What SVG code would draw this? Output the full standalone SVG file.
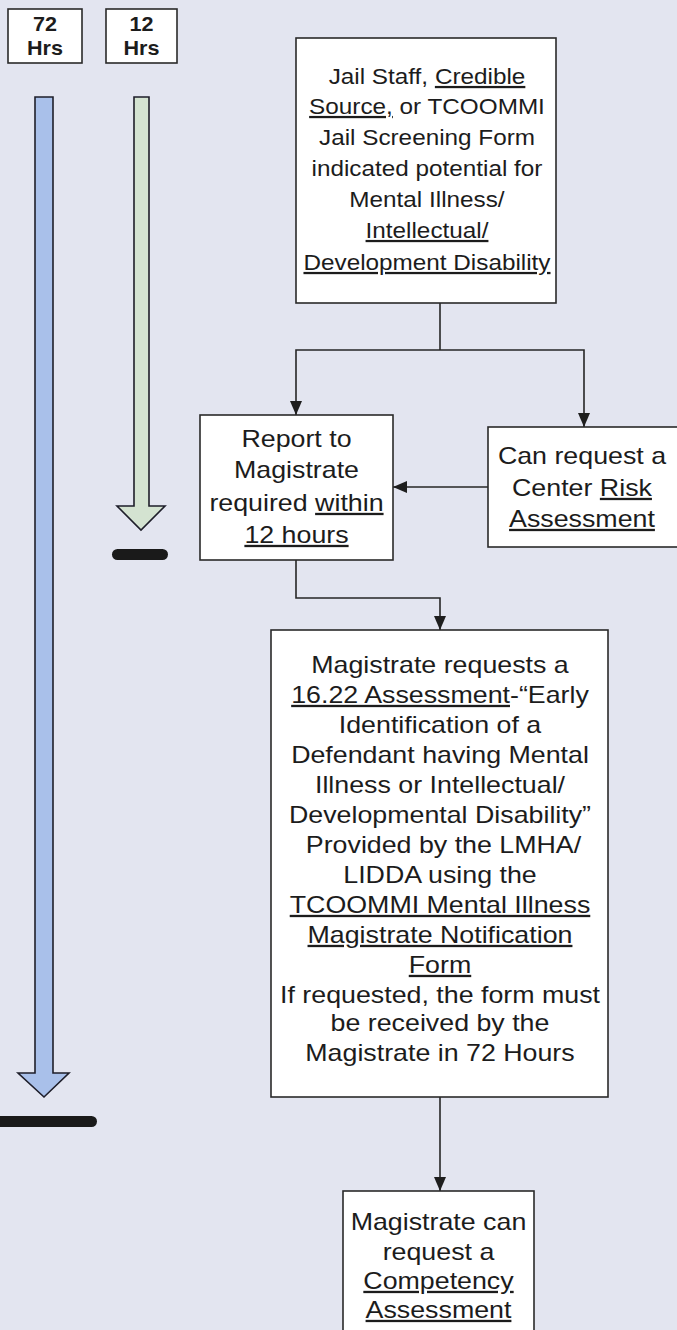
<svg xmlns="http://www.w3.org/2000/svg" width="677" height="1330" viewBox="0 0 677 1330">
<defs>
<style>
.bg{fill:#e3e5f0}
.box{fill:#ffffff;stroke:#2a2a2a;stroke-width:1.6}
.t{font-family:"Liberation Sans",Arial,sans-serif;font-size:22.5px;fill:#1c1c1c;text-anchor:middle}
.t2{font-family:"Liberation Sans",Arial,sans-serif;font-size:23px;fill:#1c1c1c;text-anchor:middle}
.tb{font-family:"Liberation Sans",Arial,sans-serif;font-size:20px;font-weight:bold;fill:#1c1c1c;text-anchor:middle}
.u{text-decoration:underline}
.conn{fill:none;stroke:#262626;stroke-width:1.6}
.arrowBody{stroke:#1e1e2a;stroke-width:1.6}
</style>
<marker id="ah" markerUnits="userSpaceOnUse" markerWidth="14" markerHeight="14" refX="14" refY="7" orient="auto">
<path d="M0,1 L14,7 L0,13 z" fill="#1e1e1e"/>
</marker>
</defs>
<rect class="bg" x="0" y="0" width="677" height="1330"/>

<g id="timeline-72">
<rect class="box" x="8" y="9" width="74" height="54"/>
<g transform="translate(45,0) scale(1.08,1) translate(-45,0)">
<text class="tb" x="45" y="31">72</text>
<text class="tb" x="45" y="55">Hrs</text>
</g>
<path class="arrowBody" fill="#a9c0ea" d="M35,97 H53 V1073 H69 L44,1097 L18,1073 H35 Z"/>
<rect x="-12" y="1116" width="109" height="11" rx="5.5" fill="#1a1a1a"/>
</g>

<g id="timeline-12">
<rect class="box" x="106" y="9" width="71" height="54"/>
<g transform="translate(141.5,0) scale(1.08,1) translate(-141.5,0)">
<text class="tb" x="141.5" y="31">12</text>
<text class="tb" x="141.5" y="55">Hrs</text>
</g>
<path class="arrowBody" fill="#d4e3d1" d="M134,97 H149 V506 H165 L141,530 L117,506 H134 Z"/>
<rect x="112" y="549" width="56" height="11" rx="5.5" fill="#1a1a1a"/>
</g>

<g id="connectors">
<path class="conn" d="M440,303 V350"/>
<path class="conn" d="M440,350 H296 V415" marker-end="url(#ah)"/>
<path class="conn" d="M440,350 H584 V427" marker-end="url(#ah)"/>
<path class="conn" d="M488,487 H393" marker-end="url(#ah)"/>
<path class="conn" d="M296,560 V598 H440 V630" marker-end="url(#ah)"/>
<path class="conn" d="M440,1097 V1191" marker-end="url(#ah)"/>
</g>

<g id="node-screening">
<rect class="box" x="296" y="38" width="260" height="265"/>
<g transform="translate(427,0) scale(1.08,1) translate(-427,0)">
<text class="t" x="427" y="84">Jail Staff, <tspan class="u">Credible</tspan></text>
<text class="t" x="427" y="114"><tspan class="u">Source,</tspan> or TCOOMMI</text>
<text class="t" x="427" y="145">Jail Screening Form</text>
<text class="t" x="427" y="176">indicated potential for</text>
<text class="t" x="427" y="207">Mental Illness/</text>
<text class="t u" x="427" y="238">Intellectual/</text>
<text class="t u" x="427" y="270">Development Disability</text>
</g>
</g>

<g id="node-report">
<rect class="box" x="200" y="415" width="193" height="145"/>
<g transform="translate(296.5,0) scale(1.165,1) translate(-296.5,0)">
<text class="t2" x="296.5" y="447">Report to</text>
<text class="t2" x="296.5" y="478">Magistrate</text>
<text class="t2" x="296.5" y="511">required <tspan class="u">within</tspan></text>
<text class="t2 u" x="296.5" y="543">12 hours</text>
</g>
</g>

<g id="node-risk">
<rect class="box" x="488" y="427" width="192" height="120"/>
<g transform="translate(582,0) scale(1.165,1) translate(-582,0)">
<text class="t2" x="582" y="464">Can request a</text>
<text class="t2" x="582" y="496">Center <tspan class="u">Risk</tspan></text>
<text class="t2 u" x="582" y="527">Assessment</text>
</g>
</g>

<g id="node-assessment">
<rect class="box" x="271" y="630" width="337" height="467"/>
<g transform="translate(440,0) scale(1.165,1) translate(-440,0)">
<text class="t2" x="440" y="673">Magistrate requests a</text>
<text class="t2" x="440" y="703"><tspan class="u">16.22 Assessment</tspan>-“Early</text>
<text class="t2" x="440" y="733">Identification of a</text>
<text class="t2" x="440" y="763">Defendant having Mental</text>
<text class="t2" x="440" y="793">Illness or Intellectual/</text>
<text class="t2" x="440" y="823">Developmental Disability”</text>
<text class="t2" x="443" y="853">Provided by the LMHA/</text>
<text class="t2" x="440" y="883">LIDDA using the</text>
<text class="t2 u" x="440" y="913">TCOOMMI Mental Illness</text>
<text class="t2 u" x="440" y="943">Magistrate Notification</text>
<text class="t2 u" x="440" y="973">Form</text>
<text class="t2" x="440" y="1003">If requested, the form must</text>
<text class="t2" x="440" y="1031">be received by the</text>
<text class="t2" x="440" y="1061">Magistrate in 72 Hours</text>
</g>
</g>

<g id="node-competency">
<rect class="box" x="343" y="1191" width="191" height="150"/>
<g transform="translate(438.5,0) scale(1.165,1) translate(-438.5,0)">
<text class="t2" x="438.5" y="1230">Magistrate can</text>
<text class="t2" x="438.5" y="1260">request a</text>
<text class="t2 u" x="438.5" y="1289">Competency</text>
<text class="t2 u" x="438.5" y="1318">Assessment</text>
</g>
</g>
</svg>
